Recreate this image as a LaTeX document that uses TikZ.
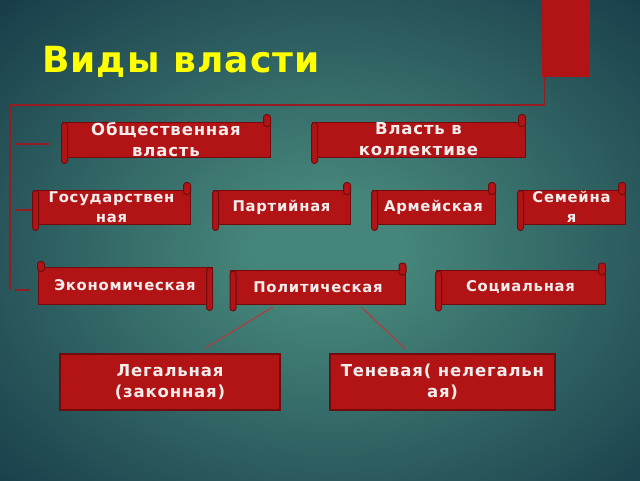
\documentclass[tikz,border=0pt]{standalone}
\usepackage{fontspec}
\setmainfont{DejaVu Sans}
\newfontfamily\slidefont[LetterSpace=5]{DejaVu Sans}
\newfontfamily\titlefont[LetterSpace=3]{DejaVu Sans}
\usetikzlibrary{calc}

\definecolor{bginner}{RGB}{70,134,122}
\definecolor{bgouter}{RGB}{15,46,64}
\definecolor{boxred}{RGB}{178,20,22}
\definecolor{boxedge}{RGB}{112,12,14}
\definecolor{framered}{RGB}{150,28,34}
\definecolor{linkred}{RGB}{172,64,62}
\definecolor{titleyellow}{RGB}{255,255,0}
\definecolor{boxtext}{RGB}{245,236,236}

\pgfdeclareradialshading{slidebg}{\pgfpoint{0bp}{0bp}}{%
  color(0bp)=(bginner); color(5bp)=(bginner); color(38bp)=(bgouter); color(50bp)=(bgouter)}

\begin{document}
\begin{tikzpicture}[
    x=1pt, y=-1pt,                       % one unit = one pixel of the slide
    scrollbox/.style={
        draw=boxedge,
        fill=boxred,
        line width=1pt,
        text=boxtext,
        align=center,
        inner sep=0pt,
        font=\slidefont\bfseries\fontsize{16.5}{21}\selectfont
    },
    smallscroll/.style={scrollbox, font=\slidefont\bfseries\fontsize{14.8}{19.5}\selectfont},
    plainbox/.style={scrollbox, line width=1.2pt},
    roll/.style={draw=boxedge, fill=boxred, line width=1pt, rounded corners=3pt},
    frame/.style={draw=framered, line width=1.2pt},
    link/.style={draw=linkred, line width=1.2pt}
]

% background
\useasboundingbox (0,0) rectangle (640,480);
\shade[shading=slidebg] (-30,-20) rectangle (690,520);

% title and corner bar
\node[anchor=base west, text=titleyellow, inner sep=0pt,
      font=\titlefont\bfseries\fontsize{36}{40}\selectfont] (title) at (42,72) {Виды власти};
\node[fill=boxred, minimum width=48pt, minimum height=77pt, inner sep=0pt] (bar) at (566,38.5) {};

% first level
\node[scrollbox, minimum width=208pt, minimum height=35pt] (obs) at (166,139.5) {Общественная\\власть};
\node[scrollbox, minimum width=213pt, minimum height=35pt] (kol) at (418.5,139.5) {Власть в\\коллективе};

% second level
\node[smallscroll, minimum width=157pt, minimum height=34pt] (gos) at (111.5,207) {Государствен\\ная};
\node[smallscroll, minimum width=137pt, minimum height=34pt] (par) at (281.5,207) {Партийная};
\node[smallscroll, minimum width=123pt, minimum height=34pt] (arm) at (433.5,207) {Армейская};
\node[smallscroll, minimum width=107pt, minimum height=34pt] (sem) at (571.5,207) {Семейна\\я};

% third level
\node[smallscroll, minimum width=174pt, minimum height=37pt] (eko) at (125,285.5) {Экономическая};
\node[smallscroll, minimum width=175pt, minimum height=34pt] (pol) at (318,287.5) {Политическая};
\node[smallscroll, minimum width=169pt, minimum height=34pt] (soc) at (520.5,287.5) {Социальная};

% rolled ends of the scrolls
\foreach \n in {obs,kol,gos,par,arm,sem,pol,soc} {
    \draw[roll] ($(\n.north west)+(0,1)$) rectangle ($(\n.south west)+(6,6)$);
    \draw[roll] ($(\n.north east)+(-7,-7)$) rectangle ($(\n.north east)+(0,5)$);
}
\draw[roll] ($(eko.north west)+(0,-5)$) rectangle ($(eko.north west)+(7,5)$);
\draw[roll] ($(eko.north east)+(-6,1)$) rectangle ($(eko.south east)+(0,6)$);

% bottom level
\node[plainbox, minimum width=220pt, minimum height=56pt] (leg) at (170,382) {Легальная\\(законная)};
\node[plainbox, minimum width=225pt, minimum height=56pt] (ten) at (442.5,382) {Теневая( нелегальн\\ая)};

% frame from the corner bar
\coordinate (fr) at (10,105);
\draw[frame] ($(bar.south west)+(3,0)$) |- (fr) -- (10,290);
\draw[frame] (15,144) -- ($(obs.west)+(-12,4.5)$);
\draw[frame] (15,210) -- ($(gos.west)+(-1,3)$);
\draw[frame] (15,290) -- ($(eko.west)+(-8,4.5)$);

% links
\draw[link] ($(pol.south)+(-45,2)$) -- ($(leg.north)+(35,-5)$);
\draw[link] ($(pol.south)+(43,2)$) -- ($(ten.north)+(-37.5,-5)$);

\end{tikzpicture}
\end{document}
